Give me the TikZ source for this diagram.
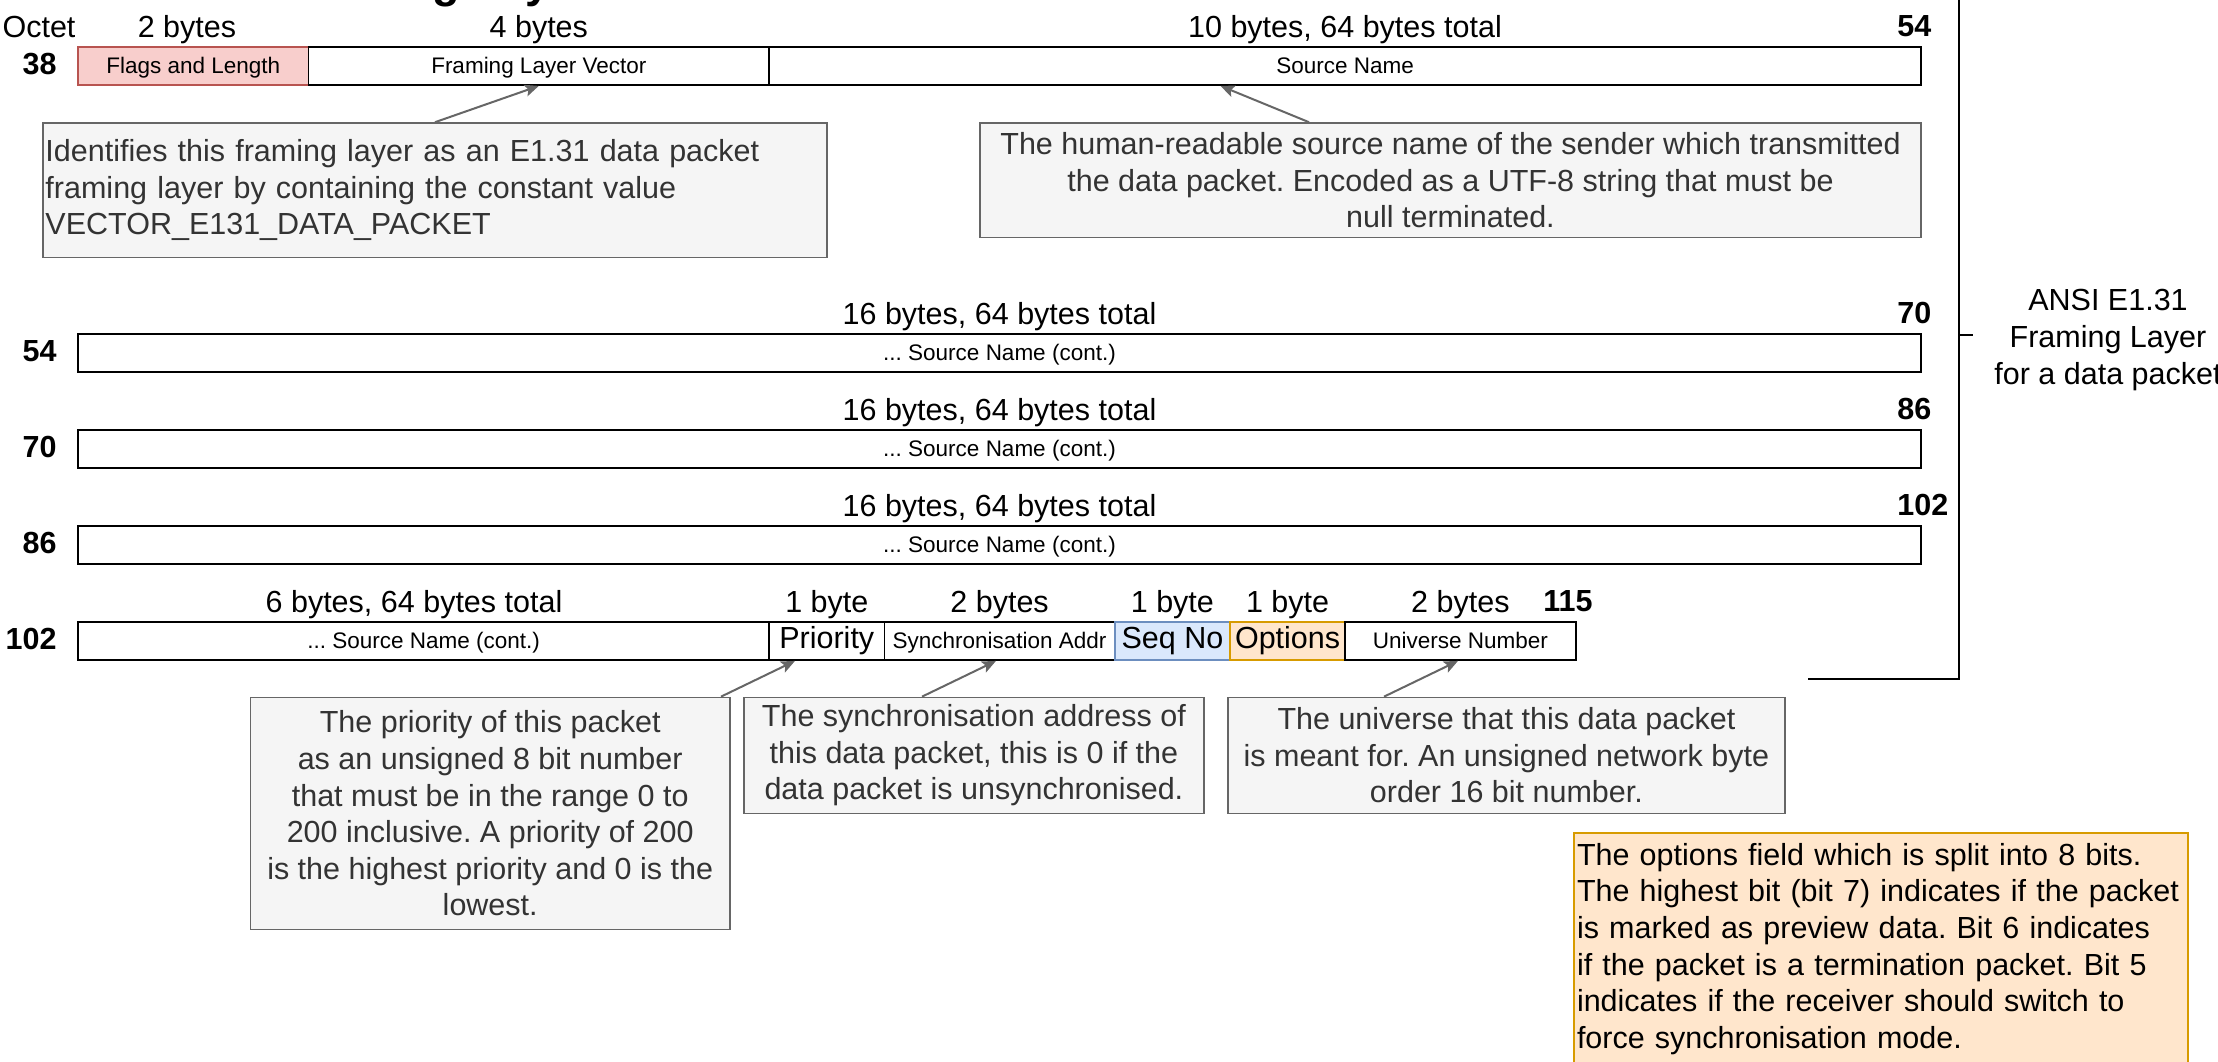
\documentclass[tikz,border=0pt]{standalone}
\usepackage{fontspec}
\setmainfont{Liberation Sans}
\frenchspacing
\usetikzlibrary{arrows.meta}
\definecolor{redfill}{HTML}{F8CECC}
\definecolor{redline}{HTML}{B85450}
\definecolor{bluefill}{HTML}{DAE8FC}
\definecolor{blueline}{HTML}{6C8EBF}
\definecolor{orangefill}{HTML}{FFE6CC}
\definecolor{orangeline}{HTML}{D79B00}
\definecolor{notefill}{HTML}{F5F5F5}
\definecolor{noteline}{HTML}{666666}
\definecolor{notetext}{HTML}{333333}
\newcommand{\bigfont}{\fontsize{15.25}{18.3}\selectfont}
\newcommand{\smallfont}{\fontsize{11.25}{13.5}\selectfont}
\tikzset{
  field/.style={draw=black, line width=0.9pt, minimum height=19pt, inner sep=0pt, font=\smallfont, text height=0.9em, text depth=0.2em},
  bigfield/.style={field, font=\bigfont},
  lbl/.style={font=\bigfont, inner sep=0pt, text height=0.9em, text depth=0.2em},
  octnum/.style={font=\bigfont\bfseries, inner sep=0pt, text height=0.9em, text depth=0.2em},
  note/.style={draw=noteline, fill=notefill, line width=0.8pt, text=notetext, font=\bigfont, inner sep=0pt, align=center},
  pointer/.style={draw=noteline, line width=1pt, -{Stealth[length=7pt,width=6pt,inset=1.5pt]}},
}
\begin{document}
\begin{tikzpicture}[x=0.5pt, y=-0.5pt]
\useasboundingbox (0,0) rectangle (2218,1061);
% clipped title
\node[anchor=base, font=\fontsize{22.5}{27}\selectfont\bfseries, inner sep=0pt] (title) at (438,-3) {Framing Layer};

% Row octet 38
\node[lbl] (octet) at (39,30) {Octet};
\node[octnum, anchor=east] (o38) at (57,67) {38};
\node[field, fill=redfill, draw=redline, minimum width=115.2pt] (flags) at (193.2,66) {Flags and Length};
\node[field, minimum width=230.4pt] (flv) at (538.8,66) {Framing Layer Vector};
\node[field, minimum width=575.9pt] (sn) at (1345.1,66) {Source Name};
\node[lbl] (l1a) at (187,30) {2 bytes};
\node[lbl] (l1b) at (538.8,30) {4 bytes};
\node[lbl] (l1c) at (1345,30) {10 bytes, 64 bytes total};
\node[octnum, anchor=west] (e54) at (1897,29) {54};

% Row octet 54
\node[octnum, anchor=east] (o54) at (57,354) {54};
\node[field, minimum width=921.5pt] (sn2) at (999.5,353) {... Source Name (cont.)};
\node[lbl] (l2) at (999.5,317) {16 bytes, 64 bytes total};
\node[octnum, anchor=west] (e70) at (1897,316) {70};

% Row octet 70
\node[octnum, anchor=east] (o70) at (57,450) {70};
\node[field, minimum width=921.5pt] (sn3) at (999.5,449) {... Source Name (cont.)};
\node[lbl] (l3) at (999.5,413) {16 bytes, 64 bytes total};
\node[octnum, anchor=west] (e86) at (1897,412) {86};

% Row octet 86
\node[octnum, anchor=east] (o86) at (57,546) {86};
\node[field, minimum width=921.5pt] (sn4) at (999.5,545) {... Source Name (cont.)};
\node[lbl] (l4) at (999.5,509) {16 bytes, 64 bytes total};
\node[octnum, anchor=west] (e102) at (1897,508) {102};

% Row octet 102
\node[octnum, anchor=east] (o102) at (57,642) {102};
\node[field, minimum width=345.6pt] (sn5) at (423.6,641) {... Source Name (cont.)};
\node[bigfield, minimum width=57.6pt] (prio) at (826.8,641) {Priority};
\node[field, minimum width=115.2pt] (sync) at (999.6,641) {Synchronisation Addr};
\node[bigfield, fill=bluefill, draw=blueline, minimum width=57.6pt] (seq) at (1172.4,641) {Seq No};
\node[bigfield, fill=orangefill, draw=orangeline, minimum width=57.6pt] (opt) at (1287.6,641) {Options};
\node[field, minimum width=115.2pt] (uni) at (1460.4,641) {Universe Number};
\node[lbl] (l5a) at (414,605) {6 bytes, 64 bytes total};
\node[lbl] (l5b) at (826.8,605) {1 byte};
\node[lbl] (l5c) at (999.6,605) {2 bytes};
\node[lbl] (l5d) at (1172.4,605) {1 byte};
\node[lbl] (l5e) at (1287.6,605) {1 byte};
\node[lbl] (l5f) at (1460.4,605) {2 bytes};
\node[octnum, anchor=west] (e115) at (1543,604) {115};

% Notes
\node[note, align=left, text width=389.5pt, inner xsep=1.3pt, minimum height=67.2pt] (c1) at (435,190.2)
  {Identifies this framing layer as an E1.31 data packet\\framing layer by containing the constant value\\VECTOR\_E131\_DATA\_PACKET};
\node[note, minimum width=470.5pt, minimum height=57.3pt] (c2) at (1450.5,180.3)
  {The human-readable source name of the sender which transmitted\\the data packet. Encoded as a UTF-8 string that must be\\null terminated.};
\node[note, minimum width=239.75pt, minimum height=115.95pt] (c3) at (490.2,813.4)
  {The priority of this packet\\as an unsigned 8 bit number\\that must be in the range 0 to\\200 inclusive. A priority of 200\\is the highest priority and 0 is the\\lowest.};
\node[note, minimum width=229.85pt, minimum height=57.95pt] (c4) at (973.9,755.4)
  {The synchronisation address of\\this data packet, this is 0 if the\\data packet is unsynchronised.};
\node[note, minimum width=278.6pt, minimum height=57.95pt] (c5) at (1506.4,755.4)
  {The universe that this data packet\\is meant for. An unsigned network byte\\order 16 bit number.};
\node[note, fill=orangefill, draw=orangeline, text=black, align=left, text width=304pt, inner xsep=1.5pt, minimum height=116pt] (c6) at (1881,949)
  {The options field which is split into 8 bits.\\The highest bit (bit 7) indicates if the packet\\is marked as preview data. Bit 6 indicates\\if the packet is a termination packet. Bit 5\\indicates if the receiver should switch to\\force synchronisation mode.};

% Pointers
\draw[pointer] (c1.north) -- (flv.south);
\draw[pointer] ([xshift=-70.75pt]c2.north) -- ([xshift=-62.3pt]sn.south);
\draw[pointer] ([xshift=115.4pt]c3.north) -- ([xshift=-15.9pt]prio.south);
\draw[pointer] ([xshift=-25.95pt]c4.north) -- ([xshift=-1.8pt]sync.south);
\draw[pointer] ([xshift=-61.2pt]c5.north) -- ([xshift=-1.2pt]uni.south);

% Bracket
\coordinate (btop) at (1959,-10);
\coordinate (bcorner) at (1959,679);
\coordinate (bend) at (1808,679);
\coordinate (btick) at (1959,335);
\coordinate (btickend) at (1973,335);
\draw[line width=1pt] (btop) -- (bcorner) -- (bend);
\draw[line width=0.8pt] (btick) -- (btickend);
\node[font=\bigfont, inner sep=0pt, align=center] (layer) at (2108,340) {ANSI E1.31\\Framing Layer\\for a data packet};
\end{tikzpicture}
\end{document}
